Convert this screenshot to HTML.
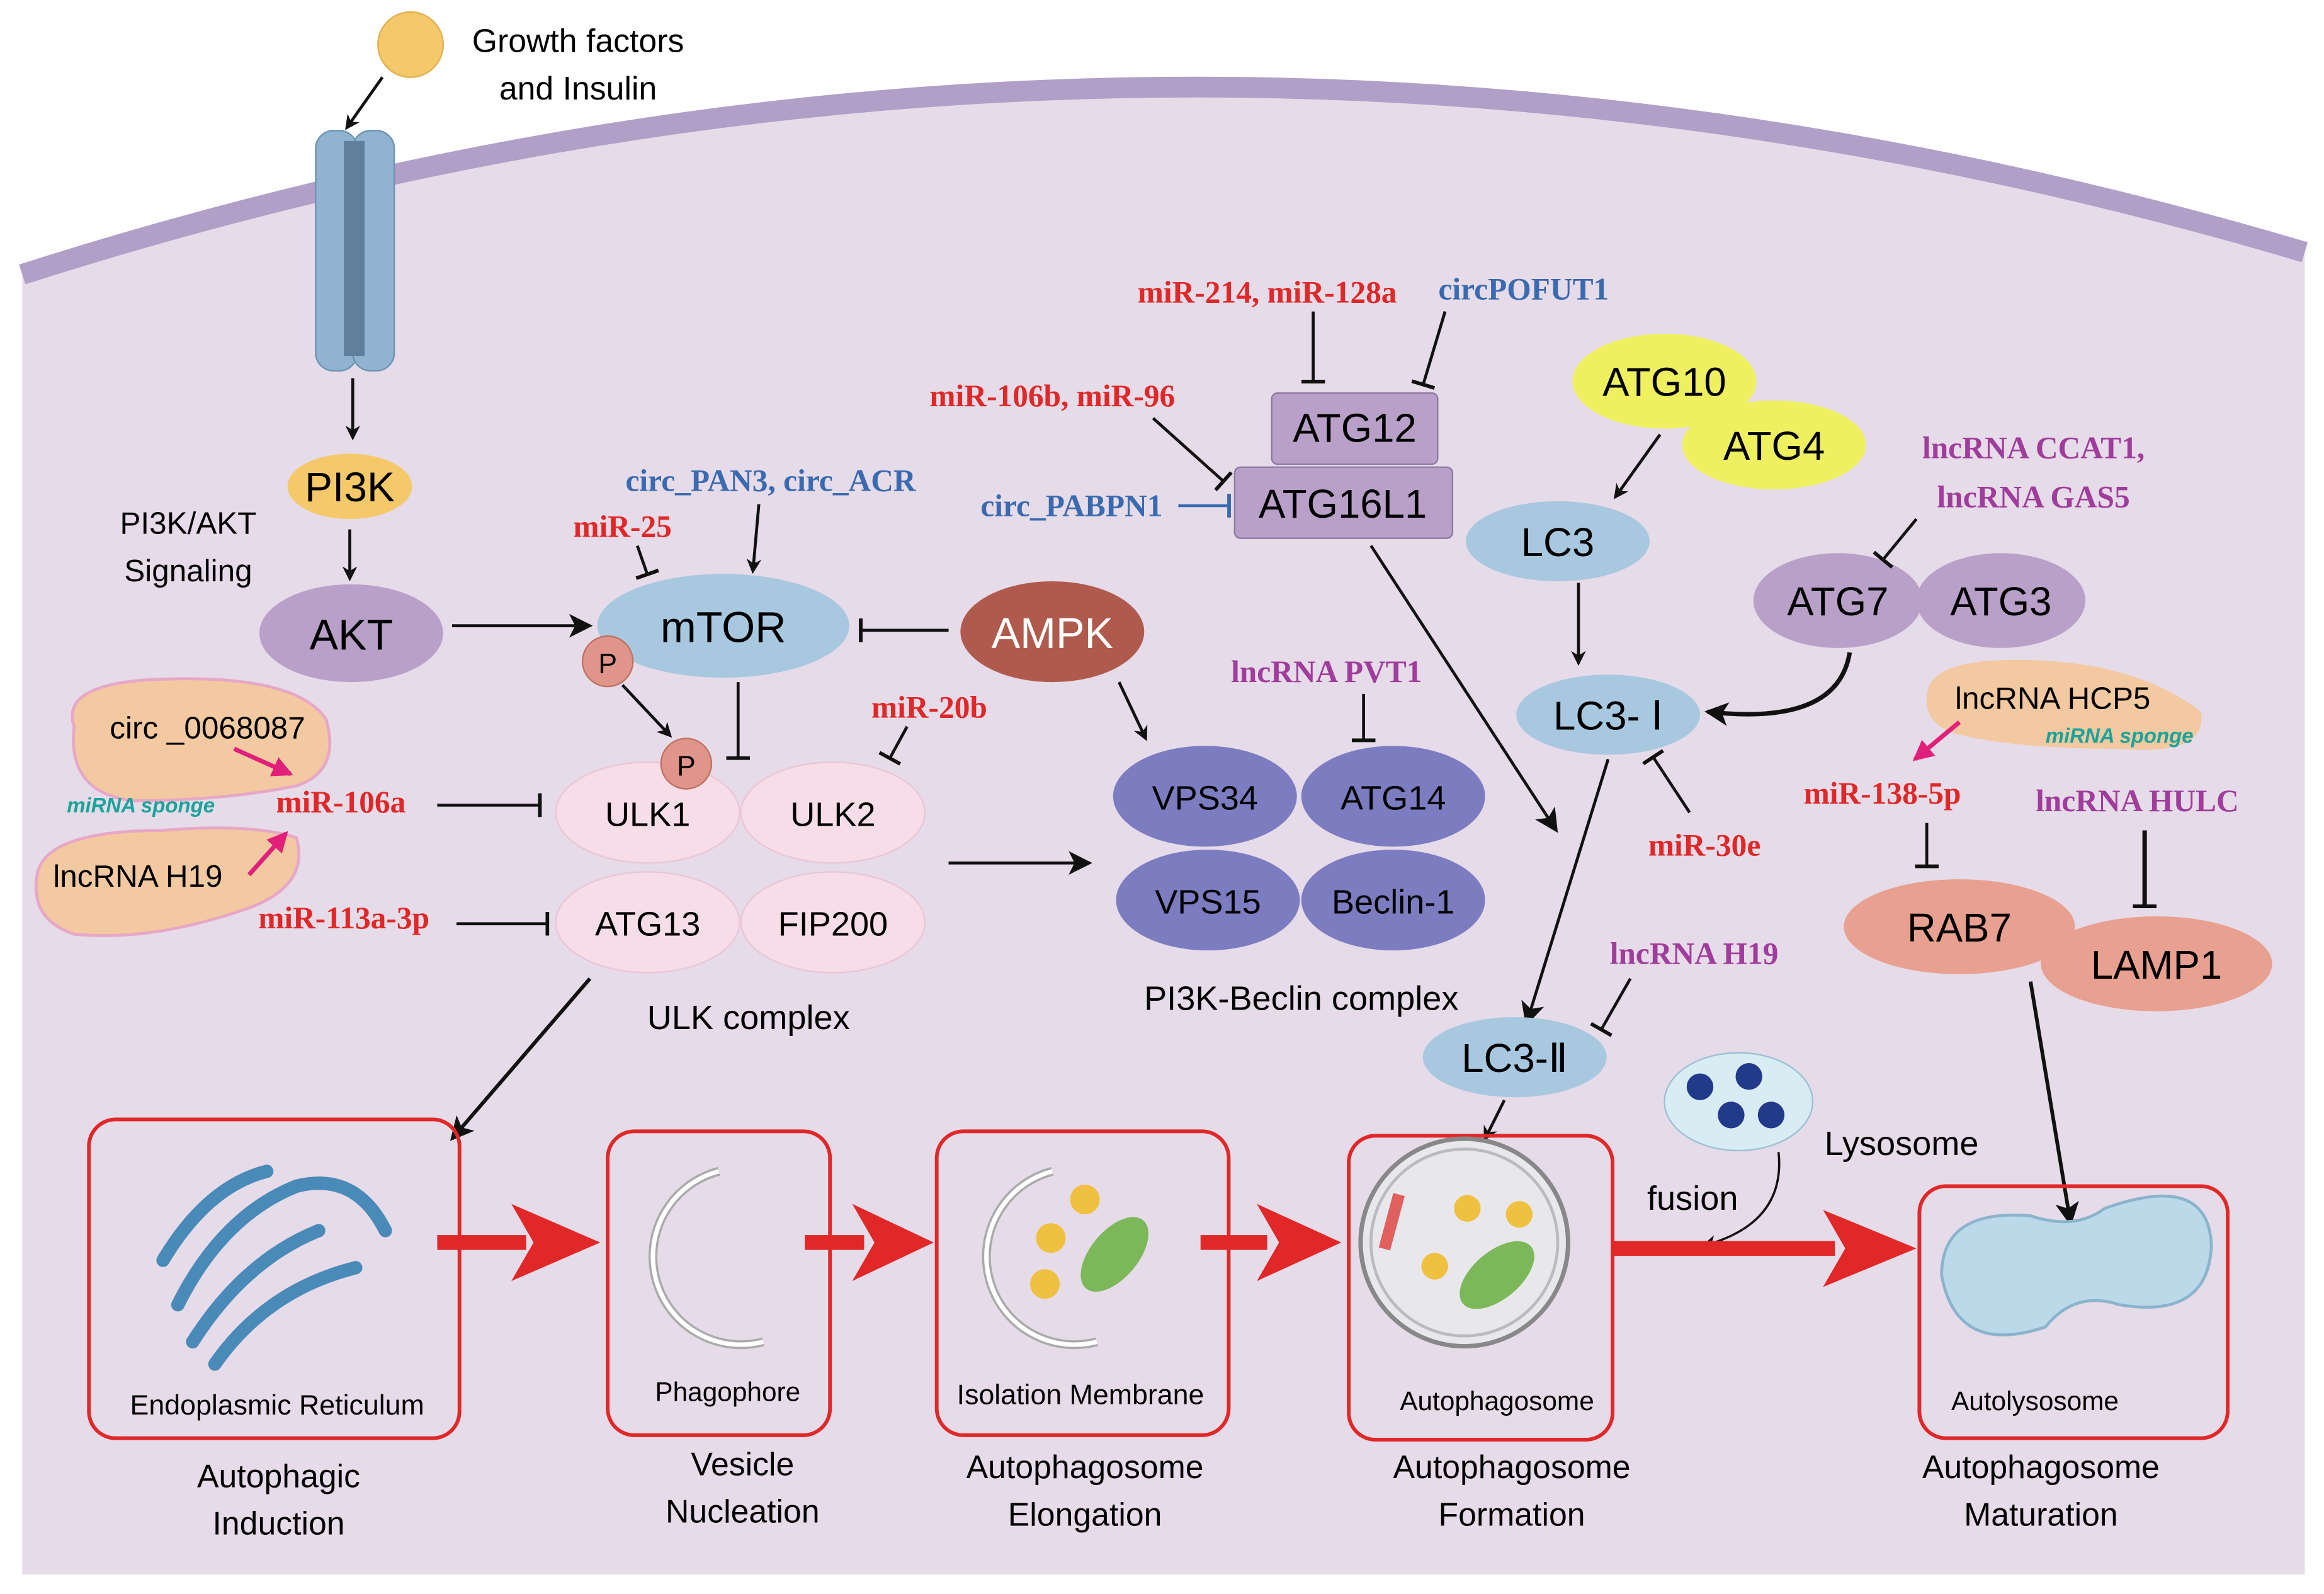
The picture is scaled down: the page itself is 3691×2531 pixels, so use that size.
<!DOCTYPE html>
<html><head><meta charset="utf-8"><style>
html,body{margin:0;padding:0;background:#fff;}
svg{display:block;}
text{font-family:"Liberation Sans",sans-serif;}
.s{font-family:"Liberation Serif",serif;font-weight:bold;}
</style></head><body>
<svg width="3691" height="2531" viewBox="0 0 1568 1075" xmlns="http://www.w3.org/2000/svg">
<defs>
<marker id="a" markerWidth="10" markerHeight="10" refX="8" refY="5" orient="auto" markerUnits="userSpaceOnUse"><path d="M0,0 L10,5 L0,10 L3,5 z" fill="#111"/></marker>
<marker id="ab" markerWidth="16" markerHeight="16" refX="14" refY="8" orient="auto" markerUnits="userSpaceOnUse"><path d="M0,0 L16,8 L0,16 L4,8 z" fill="#111"/></marker>
<marker id="t" markerWidth="4" markerHeight="16" refX="2" refY="8" orient="auto" markerUnits="userSpaceOnUse"><rect x="0" y="0" width="2.5" height="16" fill="#111"/></marker>
<marker id="tb" markerWidth="4" markerHeight="16" refX="2" refY="8" orient="auto" markerUnits="userSpaceOnUse"><rect x="0" y="0" width="2.5" height="16" fill="#3a6ab0"/></marker>
<marker id="p" markerWidth="14" markerHeight="14" refX="12" refY="7" orient="auto" markerUnits="userSpaceOnUse"><path d="M0,0 L14,7 L0,14 z" fill="#e0207a"/></marker>
</defs>
<!-- cell -->
<path d="M15,185 Q780,-60 1555,170 L1555,1062 L15,1062 Z" fill="#e6dbe8"/>
<path d="M15,185 Q780,-60 1555,170" fill="none" stroke="#b19fc8" stroke-width="14"/>
<!-- growth factor -->
<circle cx="277" cy="30" r="22" fill="#f5c96a" stroke="#e0b050"/>
<text x="390" y="35" font-size="22" text-anchor="middle">Growth factors</text>
<text x="390" y="67" font-size="22" text-anchor="middle">and Insulin</text>
<line x1="258" y1="52" x2="234" y2="86" stroke="#111" stroke-width="2" marker-end="url(#a)"/>
<!-- receptor -->
<rect x="213" y="88" width="28" height="162" rx="12" fill="#8fb3d0" stroke="#6d93b3"/>
<rect x="238" y="88" width="28" height="162" rx="12" fill="#8fb3d0" stroke="#6d93b3"/>
<rect x="232" y="95" width="14" height="145" fill="#5f7f9d"/>
<line x1="238" y1="255" x2="238" y2="295" stroke="#111" stroke-width="2" marker-end="url(#a)"/>
<ellipse cx="236" cy="328" rx="42" ry="22" fill="#f5c96a"/>
<text x="236" y="338" font-size="28" text-anchor="middle">PI3K</text>
<text x="127" y="360" font-size="21" text-anchor="middle">PI3K/AKT</text>
<text x="127" y="392" font-size="21" text-anchor="middle">Signaling</text>
<line x1="236" y1="357" x2="236" y2="390" stroke="#111" stroke-width="2" marker-end="url(#a)"/>
<ellipse cx="237" cy="427" rx="62" ry="33" fill="#b8a0c8"/>
<text x="237" y="438" font-size="29" text-anchor="middle">AKT</text>
<line x1="305" y1="422" x2="398" y2="422" stroke="#111" stroke-width="2" marker-end="url(#ab)"/>
<ellipse cx="488" cy="422" rx="85" ry="35" fill="#a8c8e0"/>
<text x="488" y="433" font-size="29" text-anchor="middle">mTOR</text>
<ellipse cx="710" cy="426" rx="62" ry="34" fill="#b05a4e"/>
<text x="710" y="437" font-size="29" text-anchor="middle" fill="#fff">AMPK</text>
<line x1="640" y1="425" x2="580" y2="425" stroke="#111" stroke-width="2" marker-end="url(#t)"/>
<text x="520" y="331" font-size="21" class="s" fill="#3a6ab0" text-anchor="middle">circ_PAN3, circ_ACR</text>
<line x1="512" y1="340" x2="508" y2="385" stroke="#111" stroke-width="2" marker-end="url(#a)"/>
<text x="420" y="362" font-size="21" class="s" fill="#e02828" text-anchor="middle">miR-25</text>
<line x1="430" y1="368" x2="437" y2="388" stroke="#111" stroke-width="2" marker-end="url(#t)"/>
<circle cx="410" cy="446" r="17" fill="#e0958a" stroke="#c07060"/><text x="410" y="454" font-size="19" text-anchor="middle">P</text>
<line x1="420" y1="462" x2="452" y2="496" stroke="#111" stroke-width="2" marker-end="url(#a)"/>
<line x1="498" y1="460" x2="498" y2="512" stroke="#111" stroke-width="2" marker-end="url(#t)"/>
<!-- ULK -->
<ellipse cx="437" cy="548" rx="62" ry="34" fill="#f6dde8" stroke="#eac6d6"/>
<ellipse cx="562" cy="548" rx="62" ry="34" fill="#f6dde8" stroke="#eac6d6"/>
<ellipse cx="437" cy="622" rx="62" ry="34" fill="#f6dde8" stroke="#eac6d6"/>
<ellipse cx="562" cy="622" rx="62" ry="34" fill="#f6dde8" stroke="#eac6d6"/>
<circle cx="463" cy="515" r="17" fill="#e0958a" stroke="#c07060"/><text x="463" y="523" font-size="19" text-anchor="middle">P</text>
<text x="437" y="557" font-size="23" text-anchor="middle">ULK1</text>
<text x="562" y="557" font-size="23" text-anchor="middle">ULK2</text>
<text x="437" y="631" font-size="23" text-anchor="middle">ATG13</text>
<text x="562" y="631" font-size="23" text-anchor="middle">FIP200</text>
<text x="505" y="694" font-size="23" text-anchor="middle">ULK complex</text>
<text x="627" y="484" font-size="21" class="s" fill="#e02828" text-anchor="middle">miR-20b</text>
<line x1="612" y1="490" x2="600" y2="512" stroke="#111" stroke-width="2" marker-end="url(#t)"/>
<line x1="755" y1="460" x2="773" y2="498" stroke="#111" stroke-width="2" marker-end="url(#a)"/>
<!-- blobs -->
<path d="M50,490 Q40,460 110,458 Q200,455 220,485 Q230,520 200,530 Q150,540 90,540 Q45,535 50,490 Z" fill="#f2c9a0" stroke="#e7a7c6" stroke-width="2"/>
<text x="140" y="498" font-size="21" text-anchor="middle">circ _0068087</text>
<path d="M25,590 Q30,560 110,560 Q170,555 200,565 Q210,600 160,615 Q100,635 50,630 Q20,620 25,590 Z" fill="#f2c9a0" stroke="#e7a7c6" stroke-width="2"/>
<text x="93" y="598" font-size="21" text-anchor="middle">lncRNA H19</text>
<text x="95" y="548" font-size="14" font-style="italic" font-weight="bold" fill="#1aa39a" text-anchor="middle">miRNA sponge</text>
<line x1="158" y1="505" x2="196" y2="522" stroke="#e0207a" stroke-width="3" marker-end="url(#p)"/>
<line x1="168" y1="590" x2="193" y2="562" stroke="#e0207a" stroke-width="3" marker-end="url(#p)"/>
<text x="230" y="548" font-size="21" class="s" fill="#e02828" text-anchor="middle">miR-106a</text>
<line x1="295" y1="543" x2="365" y2="543" stroke="#111" stroke-width="2" marker-end="url(#t)"/>
<text x="232" y="626" font-size="21" class="s" fill="#e02828" text-anchor="middle">miR-113a-3p</text>
<line x1="308" y1="623" x2="370" y2="623" stroke="#111" stroke-width="2" marker-end="url(#t)"/>
<line x1="640" y1="582" x2="735" y2="582" stroke="#111" stroke-width="2" marker-end="url(#ab)"/>
<!-- PI3K-Beclin -->
<ellipse cx="813" cy="537" rx="62" ry="34" fill="#7c7cc0"/>
<ellipse cx="940" cy="537" rx="62" ry="34" fill="#7c7cc0"/>
<ellipse cx="815" cy="607" rx="62" ry="34" fill="#7c7cc0"/>
<ellipse cx="940" cy="607" rx="62" ry="34" fill="#7c7cc0"/>
<text x="813" y="546" font-size="23" text-anchor="middle">VPS34</text>
<text x="940" y="546" font-size="23" text-anchor="middle">ATG14</text>
<text x="815" y="616" font-size="23" text-anchor="middle">VPS15</text>
<text x="940" y="616" font-size="23" text-anchor="middle">Beclin-1</text>
<text x="878" y="681" font-size="23" text-anchor="middle">PI3K-Beclin complex</text>
<text x="895" y="460" font-size="21" class="s" fill="#a03c9c" text-anchor="middle">lncRNA PVT1</text>
<line x1="920" y1="468" x2="920" y2="500" stroke="#111" stroke-width="2" marker-end="url(#t)"/>
<!-- ATG12 -->
<text x="855" y="204" font-size="21" class="s" fill="#e02828" text-anchor="middle">miR-214, miR-128a</text>
<text x="1028" y="202" font-size="21" class="s" fill="#3a6ab0" text-anchor="middle">circPOFUT1</text>
<line x1="886" y1="210" x2="886" y2="258" stroke="#111" stroke-width="2" marker-end="url(#t)"/>
<line x1="975" y1="210" x2="960" y2="260" stroke="#111" stroke-width="2" marker-end="url(#t)"/>
<rect x="858" y="265" width="112" height="48" rx="4" fill="#b8a0c8" stroke="#8e78a4"/>
<text x="914" y="298" font-size="27" text-anchor="middle">ATG12</text>
<rect x="833" y="315" width="147" height="48" rx="4" fill="#b8a0c8" stroke="#8e78a4"/>
<text x="906" y="349" font-size="27" text-anchor="middle">ATG16L1</text>
<text x="710" y="274" font-size="21" class="s" fill="#e02828" text-anchor="middle">miR-106b, miR-96</text>
<line x1="778" y1="282" x2="826" y2="325" stroke="#111" stroke-width="2" marker-end="url(#t)"/>
<text x="723" y="348" font-size="21" class="s" fill="#3a6ab0" text-anchor="middle">circ_PABPN1</text>
<line x1="795" y1="341" x2="830" y2="341" stroke="#3a6ab0" stroke-width="2" marker-end="url(#tb)"/>
<line x1="925" y1="368" x2="1050" y2="560" stroke="#111" stroke-width="2" marker-end="url(#ab)"/>
<!-- LC3 -->
<ellipse cx="1123" cy="257" rx="62" ry="32" fill="#eef060"/>
<text x="1123" y="267" font-size="27" text-anchor="middle">ATG10</text>
<ellipse cx="1197" cy="300" rx="62" ry="30" fill="#eef060"/>
<text x="1197" y="310" font-size="27" text-anchor="middle">ATG4</text>
<line x1="1120" y1="293" x2="1090" y2="335" stroke="#111" stroke-width="2" marker-end="url(#a)"/>
<ellipse cx="1051" cy="365" rx="62" ry="27" fill="#a8c8e0"/>
<text x="1051" y="375" font-size="27" text-anchor="middle">LC3</text>
<line x1="1065" y1="393" x2="1065" y2="447" stroke="#111" stroke-width="2" marker-end="url(#a)"/>
<ellipse cx="1085" cy="482" rx="62" ry="27" fill="#a8c8e0"/>
<text x="1085" y="492" font-size="27" text-anchor="middle">LC3- Ⅰ</text>
<ellipse cx="1240" cy="405" rx="57" ry="32" fill="#b8a0c8"/>
<ellipse cx="1350" cy="405" rx="57" ry="32" fill="#b8a0c8"/>
<text x="1240" y="415" font-size="27" text-anchor="middle">ATG7</text>
<text x="1350" y="415" font-size="27" text-anchor="middle">ATG3</text>
<text x="1372" y="309" font-size="21" class="s" fill="#a03c9c" text-anchor="middle">lncRNA CCAT1,</text>
<text x="1372" y="342" font-size="21" class="s" fill="#a03c9c" text-anchor="middle">lncRNA GAS5</text>
<line x1="1293" y1="350" x2="1270" y2="378" stroke="#111" stroke-width="2" marker-end="url(#t)"/>
<path d="M1248,440 Q1240,490 1152,480" fill="none" stroke="#111" stroke-width="3" marker-end="url(#ab)"/>
<text x="1150" y="577" font-size="21" class="s" fill="#e02828" text-anchor="middle">miR-30e</text>
<line x1="1140" y1="548" x2="1115" y2="510" stroke="#111" stroke-width="2" marker-end="url(#t)"/>
<line x1="1085" y1="512" x2="1030" y2="690" stroke="#111" stroke-width="2" marker-end="url(#ab)"/>
<text x="1143" y="650" font-size="21" class="s" fill="#a03c9c" text-anchor="middle">lncRNA H19</text>
<line x1="1100" y1="660" x2="1080" y2="695" stroke="#111" stroke-width="2" marker-end="url(#t)"/>
<ellipse cx="1022" cy="713" rx="62" ry="27" fill="#a8c8e0"/>
<text x="1022" y="723" font-size="27" text-anchor="middle">LC3-Ⅱ</text>
<line x1="1015" y1="742" x2="1002" y2="768" stroke="#111" stroke-width="2" marker-end="url(#a)"/>
<!-- HCP5 -->
<path d="M1300,470 Q1300,445 1360,445 Q1440,445 1485,480 Q1490,510 1430,505 Q1360,505 1320,495 Q1298,488 1300,470 Z" fill="#f2c9a0"/>
<text x="1385" y="478" font-size="21" text-anchor="middle">lncRNA HCP5</text>
<text x="1430" y="501" font-size="14" font-style="italic" font-weight="bold" fill="#1aa39a" text-anchor="middle">miRNA sponge</text>
<line x1="1322" y1="487" x2="1292" y2="512" stroke="#e0207a" stroke-width="3" marker-end="url(#p)"/>
<text x="1270" y="542" font-size="21" class="s" fill="#e02828" text-anchor="middle">miR-138-5p</text>
<line x1="1300" y1="555" x2="1300" y2="585" stroke="#111" stroke-width="2" marker-end="url(#t)"/>
<text x="1442" y="547" font-size="21" class="s" fill="#a03c9c" text-anchor="middle">lncRNA HULC</text>
<line x1="1447" y1="560" x2="1447" y2="612" stroke="#111" stroke-width="3" marker-end="url(#t)"/>
<ellipse cx="1322" cy="625" rx="78" ry="32" fill="#e8a090"/>
<text x="1322" y="635" font-size="27" text-anchor="middle">RAB7</text>
<ellipse cx="1455" cy="650" rx="78" ry="32" fill="#e8a090"/>
<text x="1455" y="660" font-size="27" text-anchor="middle">LAMP1</text>
<line x1="1370" y1="662" x2="1397" y2="825" stroke="#111" stroke-width="2.5" marker-end="url(#ab)"/>
<!-- lysosome -->
<ellipse cx="1173" cy="743" rx="50" ry="33" fill="#d8ecf4" stroke="#9cc0d4"/>
<circle cx="1147" cy="733" r="9" fill="#223a8a"/><circle cx="1180" cy="726" r="9" fill="#223a8a"/>
<circle cx="1168" cy="752" r="9" fill="#223a8a"/><circle cx="1195" cy="752" r="9" fill="#223a8a"/>
<text x="1283" y="779" font-size="23" text-anchor="middle">Lysosome</text>
<text x="1142" y="816" font-size="23" text-anchor="middle">fusion</text>
<path d="M1200,777 Q1205,825 1150,840" fill="none" stroke="#111" stroke-width="1.5" marker-end="url(#a)"/>
<line x1="398" y1="660" x2="305" y2="768" stroke="#111" stroke-width="2.5" marker-end="url(#ab)"/>
<!-- boxes -->
<g fill="none" stroke="#e02828" stroke-width="2.5">
<rect x="60" y="755" width="250" height="215" rx="18"/>
<rect x="410" y="763" width="150" height="205" rx="18"/>
<rect x="632" y="763" width="197" height="205" rx="18"/>
<rect x="910" y="766" width="178" height="205" rx="18"/>
<rect x="1295" y="800" width="208" height="170" rx="18"/>
</g>
<!-- ER -->
<g fill="none" stroke="#4a8ab8" stroke-width="9" stroke-linecap="round">
<path d="M120,880 Q150,820 200,800 Q240,790 260,830"/>
<path d="M130,905 Q165,850 215,830"/>
<path d="M145,920 Q180,870 240,855"/>
<path d="M110,850 Q140,800 180,790"/>
</g>
<text x="187" y="954" font-size="19" text-anchor="middle">Endoplasmic Reticulum</text>
<path d="M485,790 A55,55 0 1 0 515,905" fill="none" stroke="#aaa" stroke-width="6"/>
<path d="M485,790 A55,55 0 1 0 515,905" fill="none" stroke="#fff" stroke-width="3"/>
<text x="491" y="945" font-size="18" text-anchor="middle">Phagophore</text>
<path d="M710,790 A58,58 0 1 0 740,905" fill="none" stroke="#aaa" stroke-width="6"/>
<path d="M710,790 A58,58 0 1 0 740,905" fill="none" stroke="#fff" stroke-width="3"/>
<circle cx="732" cy="809" r="10" fill="#f0c040"/><circle cx="709" cy="835" r="10" fill="#f0c040"/><circle cx="705" cy="866" r="10" fill="#f0c040"/>
<ellipse cx="752" cy="846" rx="16" ry="30" transform="rotate(40 752 846)" fill="#7cb85a"/>
<text x="729" y="947" font-size="19" text-anchor="middle">Isolation Membrane</text>
<circle cx="988" cy="838" r="70" fill="#e8e8ec" stroke="#888" stroke-width="3"/>
<circle cx="988" cy="838" r="63" fill="none" stroke="#bbb" stroke-width="2"/>
<rect x="935" y="805" width="8" height="38" fill="#e06060" transform="rotate(15 939 824)"/>
<circle cx="990" cy="815" r="9" fill="#f0c040"/><circle cx="1025" cy="819" r="9" fill="#f0c040"/><circle cx="968" cy="854" r="9" fill="#f0c040"/>
<ellipse cx="1010" cy="860" rx="16" ry="30" transform="rotate(50 1010 860)" fill="#7cb85a"/>
<text x="1010" y="951" font-size="18" text-anchor="middle">Autophagosome</text>
<path d="M1310,860 Q1310,815 1370,820 Q1400,830 1420,815 Q1490,790 1492,840 Q1490,890 1430,880 Q1400,870 1380,895 Q1320,915 1310,860 Z" fill="#bcd9ea" stroke="#8ab4cc" stroke-width="2"/>
<text x="1373" y="951" font-size="18" text-anchor="middle">Autolysosome</text>
<!-- big arrows -->
<g fill="#e02828">
<rect x="295" y="833" width="60" height="10"/><path d="M345,812 L405,838 L345,864 L360,838 Z"/>
<rect x="543" y="833" width="40" height="10"/><path d="M575,812 L630,838 L575,864 L590,838 Z"/>
<rect x="810" y="833" width="45" height="10"/><path d="M848,812 L905,838 L848,864 L863,838 Z"/>
<rect x="1088" y="837" width="150" height="10"/><path d="M1230,816 L1293,842 L1230,868 L1245,842 Z"/>
</g>
<g font-size="22" text-anchor="middle">
<text x="188" y="1003">Autophagic</text><text x="188" y="1035">Induction</text>
<text x="501" y="995">Vesicle</text><text x="501" y="1027">Nucleation</text>
<text x="732" y="997">Autophagosome</text><text x="732" y="1029">Elongation</text>
<text x="1020" y="997">Autophagosome</text><text x="1020" y="1029">Formation</text>
<text x="1377" y="997">Autophagosome</text><text x="1377" y="1029">Maturation</text>
</g>
</svg>
</body></html>
